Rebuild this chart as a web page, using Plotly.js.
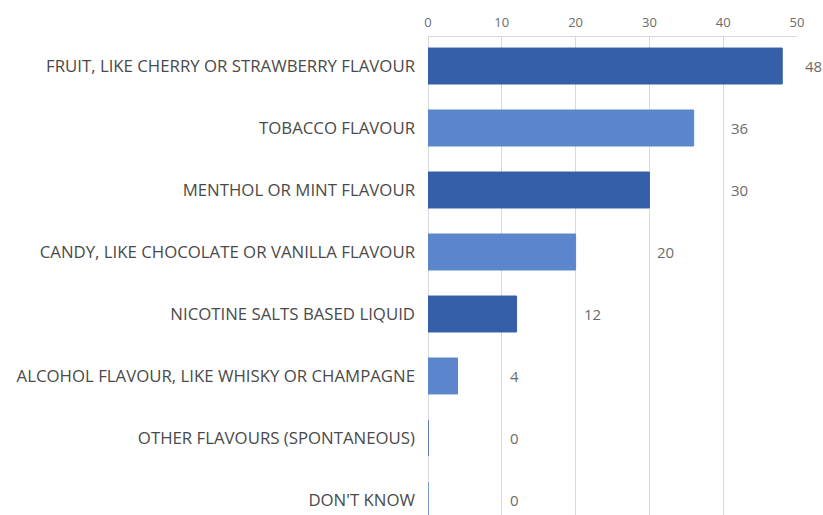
<!DOCTYPE html>
<html><head><meta charset="utf-8">
<script src="https://cdn.plot.ly/plotly-3.0.1.min.js"></script>
<style>body{margin:0;background:#fff}#chart{width:823px;height:515px}</style>
</head><body><div id="chart"></div>
<script>
const categories = [
  "FRUIT, LIKE CHERRY OR STRAWBERRY FLAVOUR",
  "TOBACCO FLAVOUR",
  "MENTHOL OR MINT FLAVOUR",
  "CANDY, LIKE CHOCOLATE OR VANILLA FLAVOUR",
  "NICOTINE SALTS BASED LIQUID",
  "ALCOHOL FLAVOUR, LIKE WHISKY OR CHAMPAGNE",
  "OTHER FLAVOURS (SPONTANEOUS)",
  "DON'T KNOW"
];
const values = [48, 36, 30, 20, 12, 4, 0, 0];
const tickVals = [0, 10, 20, 30, 40, 50];
const tickText = ["0", "10", "20", "30", "40", "50"];
const xMax = 50;

const dark = "#355FA9", light = "#5B86CC";
const colors = categories.map((c, i) => i % 2 === 0 ? dark : light);
// value labels sit just past the next gridline beyond the bar end
const labelX = values.map(v => Math.ceil((v + 1) / 10) * 10 + 0.8);

const FONT = "Open Sans, Noto Sans, sans-serif";
const bars = {
  type: "bar", orientation: "h",
  y: categories, x: values,
  marker: {color: colors, line: {color: colors, width: 1}},
  width: 0.58, hoverinfo: "skip"
};

const annotations = values.map((v, i) => ({
  x: labelX[i] / xMax, y: categories[i], xref: "paper", yref: "y",
  text: String(v), showarrow: false, xanchor: "left", yanchor: "middle",
  font: {family: FONT, size: 15, color: "#6b6b6b"}
}));

const layout = {
  width: 823, height: 515,
  margin: {l: 428, r: 26, t: 37, b: 0, pad: 0},
  paper_bgcolor: "#fff", plot_bgcolor: "#fff",
  showlegend: false,
  annotations: annotations,
  xaxis: {
    side: "top", range: [0, xMax], tickvals: tickVals, ticktext: tickText,
    showgrid: true, gridcolor: "#d9d9d9", gridwidth: 1,
    zeroline: true, zerolinecolor: "#d9d9d9", zerolinewidth: 1,
    showline: true, linecolor: "#d9d9d9", linewidth: 1,
    ticks: "", ticklabelstandoff: 4,
    tickfont: {family: FONT, size: 13, color: "#6b6b6b"},
    fixedrange: true
  },
  yaxis: {
    type: "category", categoryorder: "array", categoryarray: categories,
    range: [7.242, -0.468], showgrid: false, zeroline: false, showline: false,
    ticks: "", ticklabelstandoff: 12,
    tickfont: {family: FONT, size: 16.8, color: "#4a4a4a"},
    fixedrange: true
  }
};
Plotly.newPlot("chart", [bars], layout, {displayModeBar: false, staticPlot: true});
</script></body></html>
